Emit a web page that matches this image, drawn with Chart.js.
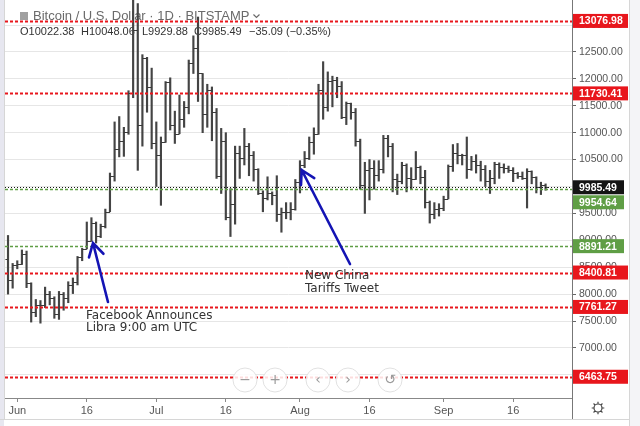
<!DOCTYPE html>
<html>
<head>
<meta charset="utf-8">
<script src="https://cdn.jsdelivr.net/npm/chart.js@4.4.1/dist/chart.umd.min.js"></script>
<style>
  html, body { margin: 0; padding: 0; background: #fff; }
  canvas { display: block; }
</style>
</head>
<body>
<canvas id="chart" width="640" height="426"></canvas>
<script>
// BTC/USD daily bars, Bitstamp, 2019-05-30 .. 2019-09-23
const startDate = '2019-05-30';
const openP = [8660, 8270, 8550, 8560, 8740, 8200, 7670, 7800, 7800, 8010, 7930, 7630, 8010, 7920, 8170, 8230, 8690, 8840, 8980, 9320,
  9080, 9270, 9530, 10200, 10700, 10850, 11010, 11730, 12900, 11150, 12380, 11850, 10800, 10580, 10820, 11950, 11150, 10980, 11250, 11480,
  12290, 12570, 12100, 11350, 11800, 11380, 10200, 10850, 9430, 9680, 10630, 10530, 10760, 10590, 10320, 9880, 9780, 9880, 9850, 9480,
  9520, 9520, 9590, 10080, 10400, 10530, 10820, 10980, 11800, 11470, 11960, 11980, 11860, 11300, 11550, 11390, 10850, 10020, 10300, 10350,
  10220, 10330, 10900, 10750, 10130, 10100, 10400, 10150, 10140, 10370, 10180, 9720, 9490, 9590, 9600, 9770, 10380, 10620, 10580, 10580,
  10320, 10480, 10400, 10320, 10100, 10160, 10410, 10360, 10350, 10300, 10250, 10190, 10160, 10280, 10170, 9990, 10022.38];
const highP = [9090, 8570, 8620, 8820, 8800, 8210, 7900, 7880, 8130, 8050, 7950, 8050, 8030, 8230, 8300, 8700, 8850, 9340, 9420, 9340,
  9300, 9580, 10250, 11200, 11300, 11100, 11780, 13880, 13400, 12450, 12400, 12200, 11200, 10920, 11950, 12020, 11400, 11700, 11580, 12350,
  12800, 13150, 12100, 11900, 11850, 11450, 11080, 11000, 9960, 10750, 10750, 11080, 10800, 10650, 10330, 9920, 10180, 9900, 10200, 9600,
  9700, 9700, 10130, 10480, 10650, 10920, 11090, 11900, 12320, 12130, 12050, 12030, 11950, 11570, 11550, 11450, 10880, 10450, 10500, 10480,
  10480, 10950, 10950, 10800, 10230, 10450, 10420, 10350, 10650, 10380, 10300, 9730, 9700, 9680, 9820, 10400, 10780, 10800, 10600, 10920,
  10560, 10590, 10470, 10390, 10300, 10450, 10440, 10420, 10380, 10350, 10260, 10270, 10330, 10290, 10180, 10080, 10048.06];
const lowP = [8000, 8110, 8470, 8550, 8120, 7480, 7580, 7460, 7750, 7800, 7550, 7530, 7700, 7840, 8010, 8170, 8620, 8840, 8980, 8950,
  9050, 9230, 9530, 10100, 10550, 10560, 10970, 11650, 10300, 10750, 11380, 10700, 10000, 9650, 10820, 11050, 10800, 10980, 11100, 11350,
  12100, 11580, 11000, 11100, 10850, 10150, 9870, 9380, 9070, 9300, 10150, 10400, 10200, 10100, 9850, 9530, 9750, 9660, 9350, 9150,
  9400, 9380, 9560, 9880, 10350, 10500, 10600, 10970, 11250, 11400, 11480, 11650, 11260, 11150, 11250, 10750, 9950, 9500, 9750, 9950,
  10100, 10250, 10550, 9900, 9850, 10050, 9900, 9950, 10130, 10050, 9600, 9320, 9400, 9450, 9550, 9770, 10280, 10420, 10400, 10150,
  10300, 10250, 10100, 10000, 9870, 10050, 10150, 10250, 10260, 10090, 10150, 10130, 9600, 10050, 9880, 9850, 9929.88];
const closeP = [8270, 8550, 8560, 8740, 8200, 7670, 7800, 7800, 8010, 7930, 7630, 8010, 7920, 8170, 8230, 8690, 8840, 8980, 9320, 9080,
  9270, 9530, 10200, 10700, 10850, 11010, 11730, 12900, 11150, 12380, 11850, 10800, 10580, 10820, 11950, 11150, 10980, 11250, 11480, 12290,
  12570, 12100, 11350, 11800, 11380, 10200, 10850, 9430, 9680, 10630, 10530, 10760, 10590, 10320, 9880, 9780, 9880, 9850, 9480, 9520,
  9520, 9590, 10080, 10400, 10530, 10820, 10980, 11800, 11470, 11960, 11980, 11860, 11300, 11550, 11390, 10850, 10020, 10300, 10350, 10220,
  10330, 10900, 10750, 10130, 10100, 10400, 10150, 10140, 10370, 10180, 9720, 9490, 9590, 9600, 9770, 10380, 10620, 10580, 10580, 10320,
  10480, 10400, 10320, 10100, 10160, 10410, 10360, 10350, 10300, 10250, 10190, 10160, 10280, 10170, 9990, 10022, 9985.49];

// day index (from startDate) of each time-axis label
const tickDays = [2, 17, 32, 47, 63, 78, 94, 109];
const tickLabels = ['Jun', '16', 'Jul', '16', 'Aug', '16', 'Sep', '16'];
// price-axis ticks
const priceTicks = [6500, 7000, 7500, 8000, 8500, 9000, 9500, 10000, 10500, 11000, 11500, 12000, 12500, 13000];

// horizontal price levels drawn on the chart
const levelValues = [13076.98, 11730.41, 9985.49, 9954.64, 8891.21, 8400.81, 7761.27, 6463.75];
const levelKinds = ['red', 'red', 'last', 'green', 'green', 'red', 'red', 'red'];

const headerTitle = 'Bitcoin / U.S. Dollar \u00b7 1D \u00b7 BITSTAMP';
const headerOhlc = ['O10022.38', 'H10048.06', 'L9929.88', 'C9985.49', '\u221235.09 (\u22120.35%)'];

const notes = [
  {lines: ['Facebook Announces', 'Libra 9:00 am UTC'], tip: [18.34, 8950], tail: [21.57, 7853], at: [16.83, 7593], gap: 12},
  {lines: ['New China', 'Tariffs Tweet'], tip: [63.37, 10307], tail: [73.79, 8559], at: [64.08, 8336], gap: 13},
];

const days = openP.map((_, i) => {
  const d = new Date(startDate + 'T00:00:00Z');
  d.setUTCDate(d.getUTCDate() + i);
  return d.toISOString().slice(0, 10);
});

const FONT = "'Liberation Sans', Arial, sans-serif";
Chart.defaults.font.family = FONT;

const colors = {red: '#e8161c', green: '#5f9e45', last: '#141414'};

const background = {
  id: 'background',
  beforeDraw(chart) {
    const ctx = chart.ctx;
    ctx.save();
    ctx.fillStyle = '#fff';
    ctx.fillRect(0, 0, chart.width, chart.height);
    ctx.fillStyle = '#e7e7f0';
    ctx.fillRect(0, 0, 4, chart.height);
    ctx.fillStyle = '#f4f4f7';
    ctx.fillRect(630, 0, 10, chart.height);
    ctx.restore();
  }
};

const header = {
  id: 'header',
  beforeDatasetsDraw(chart) {
    const ctx = chart.ctx;
    ctx.save();
    ctx.fillStyle = '#a0a0a0';
    ctx.fillRect(20, 12, 8, 8);
    ctx.font = '13px ' + FONT;
    ctx.fillStyle = '#6a6a6a';
    ctx.textBaseline = 'middle';
    ctx.fillText(headerTitle, 33, 16);
    const w = ctx.measureText(headerTitle).width;
    ctx.strokeStyle = '#6a6a6a';
    ctx.lineWidth = 1.2;
    ctx.beginPath();
    ctx.moveTo(33 + w + 4, 14.5);
    ctx.lineTo(33 + w + 7, 17.5);
    ctx.lineTo(33 + w + 10, 14.5);
    ctx.stroke();
    ctx.font = '11px ' + FONT;
    ctx.fillStyle = '#333';
    const xs = [20, 81, 142, 194, 249];
    headerOhlc.forEach((t, i) => ctx.fillText(t, xs[i], 32));
    ctx.restore();
  }
};

const ohlcTicks = {
  id: 'ohlcTicks',
  afterDatasetsDraw(chart) {
    const {ctx, chartArea, scales: {x, y}} = chart;
    ctx.save();
    ctx.beginPath();
    ctx.rect(chartArea.left, chartArea.top, chartArea.width, chartArea.height);
    ctx.clip();
    ctx.strokeStyle = '#3a3a3a';
    ctx.lineWidth = 1;
    openP.forEach((o, i) => {
      const px = x.getPixelForValue(i);
      const yo = Math.round(y.getPixelForValue(o)) + 0.5;
      const yc = Math.round(y.getPixelForValue(closeP[i])) + 0.5;
      ctx.beginPath();
      ctx.moveTo(px - 2.6, yo); ctx.lineTo(px, yo);
      ctx.moveTo(px, yc); ctx.lineTo(px + 2.6, yc);
      ctx.stroke();
    });

    // price levels
    levelValues.forEach((v, i) => {
      const kind = levelKinds[i];
      const py = Math.round(y.getPixelForValue(v)) + 0.5;
      ctx.beginPath();
      if (kind === 'red') { ctx.lineWidth = 2; ctx.setLineDash([3, 2]); }
      else if (kind === 'green') { ctx.lineWidth = 1.3; ctx.setLineDash([3, 2]); }
      else { ctx.lineWidth = 1; ctx.setLineDash([1, 2]); }
      ctx.strokeStyle = colors[kind];
      ctx.moveTo(chartArea.left, py);
      ctx.lineTo(chartArea.right, py);
      ctx.stroke();
    });
    ctx.setLineDash([]);

    // annotations
    notes.forEach(n => {
      const tx = x.getPixelForValue(n.tip[0]), ty = y.getPixelForValue(n.tip[1]);
      const bx = x.getPixelForValue(n.tail[0]), by = y.getPixelForValue(n.tail[1]);
      const ang = Math.atan2(by - ty, bx - tx);
      ctx.strokeStyle = '#1414b4';
      ctx.lineWidth = 2.6;
      ctx.lineCap = 'round';
      ctx.beginPath();
      ctx.moveTo(bx, by); ctx.lineTo(tx, ty);
      ctx.moveTo(tx + 15 * Math.cos(ang + 0.52), ty + 15 * Math.sin(ang + 0.52));
      ctx.lineTo(tx, ty);
      ctx.lineTo(tx + 15 * Math.cos(ang - 0.52), ty + 15 * Math.sin(ang - 0.52));
      ctx.stroke();
      ctx.font = "12px 'DejaVu Sans', sans-serif";
      ctx.fillStyle = '#333';
      ctx.textBaseline = 'middle';
      const lx = x.getPixelForValue(n.at[0]), ly = y.getPixelForValue(n.at[1]);
      n.lines.forEach((t, k) => ctx.fillText(t, lx, ly + k * n.gap));
    });
    ctx.restore();
  }
};

const chrome = {
  id: 'chrome',
  afterDraw(chart) {
    const {ctx, chartArea, scales: {y}} = chart;
    ctx.save();
    // price tags on the axis
    const tags = levelValues.map((v, i) => ({v, kind: levelKinds[i], cy: y.getPixelForValue(v)}))
      .sort((a, b) => a.cy - b.cy);
    let prevBottom = -100;
    ctx.font = 'bold 10.5px ' + FONT;
    ctx.textBaseline = 'middle';
    tags.forEach(t => {
      let cy = t.cy;
      if (cy - 7 < prevBottom + 1) cy = prevBottom + 8;
      prevBottom = cy + 7;
      ctx.fillStyle = colors[t.kind];
      ctx.fillRect(chartArea.right + 1, cy - 7, t.kind === 'red' ? 55 : 51, 14);
      ctx.fillStyle = '#fff';
      ctx.fillText(t.v.toFixed(2), chartArea.right + 7, cy + 0.5);
    });

    // navigation buttons
    const btns = [[245, '\u2212'], [275, '+'], [318, '\u2039'], [348, '\u203a'], [390, '\u21ba']];
    btns.forEach(([bx, s]) => {
      ctx.beginPath();
      ctx.arc(bx, 380, 12, 0, Math.PI * 2);
      ctx.fillStyle = 'rgba(255,255,255,0.85)';
      ctx.fill();
      ctx.strokeStyle = '#e2e2e2';
      ctx.lineWidth = 1;
      ctx.stroke();
      ctx.fillStyle = '#9a9a9a';
      ctx.font = "14px 'DejaVu Sans', sans-serif";
      ctx.textAlign = 'center';
      ctx.fillText(s, bx, 380);
    });
    ctx.textAlign = 'left';

    // borders
    ctx.strokeStyle = '#777';
    ctx.lineWidth = 1;
    ctx.beginPath();
    ctx.moveTo(572.5, 0); ctx.lineTo(572.5, 419);
    ctx.stroke();
    ctx.strokeStyle = '#d6d6d6';
    ctx.beginPath();
    ctx.moveTo(629.5, 0); ctx.lineTo(629.5, 426);
    ctx.moveTo(0, 419.5); ctx.lineTo(630, 419.5);
    ctx.moveTo(4.5, 0); ctx.lineTo(4.5, 419);
    ctx.stroke();

    // settings gear
    ctx.strokeStyle = '#444';
    ctx.lineWidth = 1.2;
    ctx.beginPath();
    ctx.arc(598, 408, 4, 0, Math.PI * 2);
    for (let k = 0; k < 8; k++) {
      const a = k * Math.PI / 4;
      ctx.moveTo(598 + 4 * Math.cos(a), 408 + 4 * Math.sin(a));
      ctx.lineTo(598 + 6.3 * Math.cos(a), 408 + 6.3 * Math.sin(a));
    }
    ctx.stroke();
    ctx.restore();
  }
};

new Chart(document.getElementById('chart').getContext('2d'), {
  type: 'bar',
  data: {
    labels: days,
    datasets: [{
      label: 'BTCUSD',
      data: openP.map((_, i) => ({x: i, y: [lowP[i], highP[i]]})),
      backgroundColor: '#444',
      borderWidth: 0,
      barThickness: 1.5,
    }]
  },
  options: {
    responsive: false,
    devicePixelRatio: 1,
    animation: false,
    layout: {padding: {left: 5, right: 12, top: 0, bottom: 6}},
    plugins: {legend: {display: false}, tooltip: {enabled: false}},
    scales: {
      x: {
        type: 'linear',
        min: -0.65,
        max: 121.7,
        offset: false,
        grid: {offset: false, drawOnChartArea: false, tickLength: 4, tickColor: '#888'},
        border: {display: true, color: '#888'},
        afterBuildTicks: s => { s.ticks = tickDays.map(v => ({value: v})); },
        afterFit: s => { s.height = 22; s.paddingLeft = 0; s.paddingRight = 0; },
        ticks: {
          autoSkip: false,
          maxRotation: 0,
          padding: 2,
          color: '#555',
          font: {size: 11},
          callback: (v, i) => tickLabels[i],
        }
      },
      y: {
        type: 'linear',
        position: 'right',
        min: 6069,
        max: 13466,
        grid: {color: '#e6e6e6', tickLength: 4, tickColor: '#666'},
        border: {display: true, color: '#777'},
        afterBuildTicks: s => { s.ticks = priceTicks.map(v => ({value: v})); },
        afterFit: s => { s.width = 56; s.paddingTop = 0; s.paddingBottom = 0; },
        ticks: {
          autoSkip: false,
          padding: 3,
          color: '#555',
          font: {size: 10.5},
          callback: (v, i) => priceTicks[i].toFixed(2),
        }
      }
    }
  },
  plugins: [background, header, ohlcTicks, chrome]
});
</script>
</body>
</html>
